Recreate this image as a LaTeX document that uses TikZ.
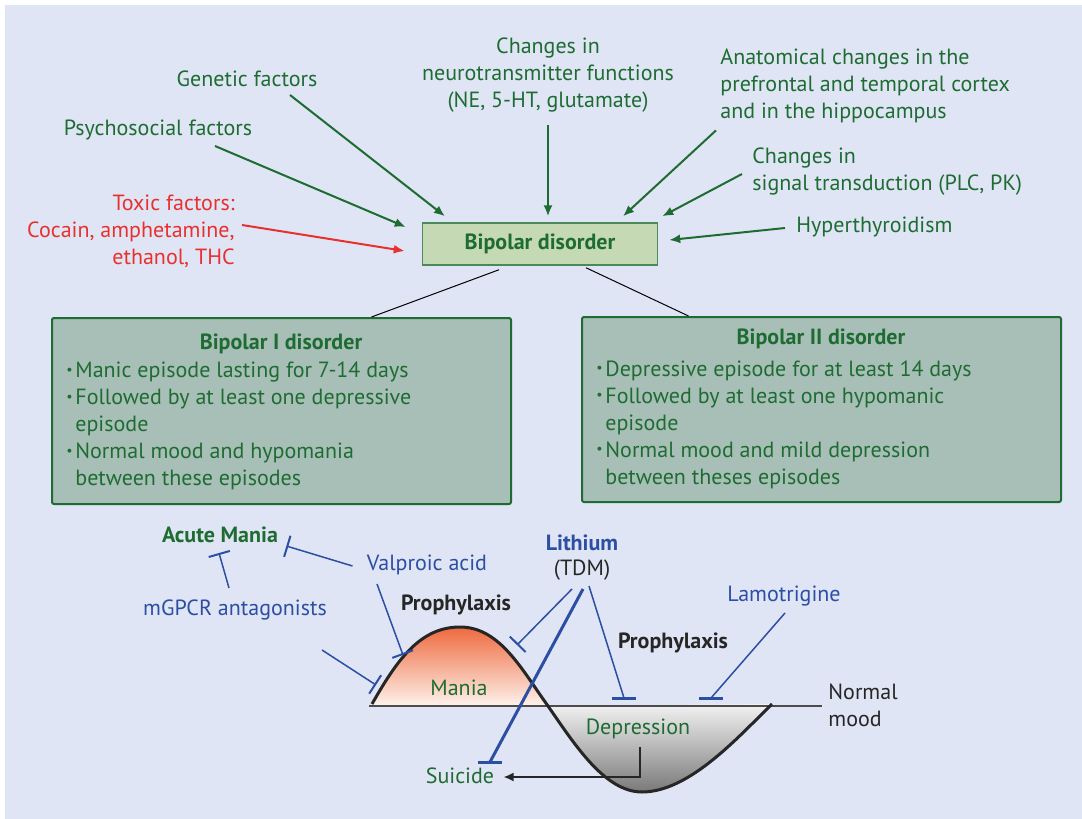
\documentclass[tikz,border=0pt]{standalone}
\usepackage{fontspec}
\setmainfont{PT Sans}
\usetikzlibrary{arrows.meta,calc}

\definecolor{bgblue}{RGB}{223,229,244}
\definecolor{dgreen}{RGB}{30,108,50}
\definecolor{boxgreen}{RGB}{168,191,184}
\definecolor{lgreen}{RGB}{197,217,180}
\definecolor{mblue}{RGB}{44,78,163}
\definecolor{tred}{RGB}{232,49,47}
\definecolor{dgray}{RGB}{38,38,38}
\definecolor{maniatop}{RGB}{238,106,62}
\definecolor{maniabot}{RGB}{253,242,236}

\newcommand{\fs}{\fontsize{11}{13.5}\selectfont}
\newcommand{\itm}{\makebox[4.5pt][l]{\raisebox{.3ex}{\scriptsize\textbullet}}}

\begin{document}
\begin{tikzpicture}[x=.5pt, y=-.5pt,
  lbl/.style={inner sep=0pt, font=\fs, align=center},
  glabel/.style={lbl, text=dgreen},
  blabel/.style={lbl, text=mblue},
  dlabel/.style={lbl, text=dgray},
  garrow/.style={draw=dgreen, line width=1pt, -{Latex[length=5.5pt,width=4.5pt]}},
  bigbox/.style={draw=dgreen, fill=boxgreen, line width=1pt, rounded corners=1pt},
  inh/.style={draw=mblue, line width=.75pt, -{Bar[width=11pt,line width=1pt]}},
  hbar/.style={draw=mblue, line width=1.5pt}]

\fill [bgblue] (5,5) rectangle (1082,819);
\useasboundingbox (0,0) rectangle (1082,819);

\node [draw=dgreen!80, fill=lgreen, line width=.75pt, minimum width=117.5pt, minimum height=21pt,
  font=\fs\bfseries, text=dgreen] (bd) at (540,244) {Bipolar disorder};

\node [glabel] (ntr) at (548,75) {Changes in\\neurotransmitter functions\\(NE, 5-HT, glutamate)};
\node [glabel] (gen) at (247,79) {Genetic factors};
\node [glabel] (psy) at (158,130) {Psychosocial factors};
\node [lbl, text=tred, anchor=east, align=right] (tox) at (235,231) {Toxic factors:\\Cocain, amphetamine,\\ethanol, THC};
\node [glabel, anchor=west, align=left] (ana) at (720,86) {Anatomical changes in the\\prefrontal and temporal cortex\\and in the hippocampus};
\node [glabel, anchor=west, align=left] (sig) at (752,172) {Changes in\\signal transduction (PLC, PK)};
\node [glabel, anchor=west] (hyp) at (796,227) {Hyperthyroidism};

\draw [garrow] ($(gen)+(43,16)$) -- ($(bd.north)+(-95,-6)$);
\draw [garrow] ($(psy)+(57,16)$) -- ($(bd.west)+(-16,-17)$);
\draw [garrow, draw=tred] ($(tox.east)+(7,-6)$) -- ($(bd.west)+(-17,7)$);
\draw [garrow] ($(ntr.south)+(0,12)$) -- ($(bd.north)+(8,-6)$);
\draw [garrow] ($(ana.south west)+(-4,7)$) -- ($(bd.north)+(83,-6)$);
\draw [garrow] ($(sig.west)+(-10,2)$) -- ($(bd.north east)+(4,-6)$);
\draw [garrow] ($(hyp.west)+(-11,1)$) -- ($(bd.east)+(11,-4)$);

\node [bigbox, minimum width=229.5pt, minimum height=93pt] (b1) at (281.5,411) {};
\node [bigbox, minimum width=239.5pt, minimum height=92.5pt] (b2) at (821.5,409.5) {};

\draw [line width=.5pt] ($(bd.south)+(-41,4)$) -- ($(b1.north)+(90,0)$);
\draw [line width=.5pt] ($(bd.south)+(46,2)$) -- ($(b2.north)+(-133,0)$);

\node [glabel, font=\fs\bfseries] (b1t) at (281,344) {Bipolar I disorder};
\node [glabel, anchor=west, align=left] (b1l) at (66,426) {\itm Manic episode lasting for 7-14 days\\
  \itm Followed by at least one depressive\\\hspace*{4.5pt}episode\\
  \itm Normal mood and hypomania\\\hspace*{4.5pt}between these episodes};
\node [glabel, font=\fs\bfseries] (b2t) at (821,339) {Bipolar II disorder};
\node [glabel, anchor=west, align=left] (b2l) at (596,424.5) {\itm Depressive episode for at least 14 days\\
  \itm Followed by at least one hypomanic\\\hspace*{4.5pt}episode\\
  \itm Normal mood and mild depression\\\hspace*{4.5pt}between theses episodes};

\shade [top color=maniatop, bottom color=maniabot] (372,706) .. controls (397,660) and (420,627) .. (460,627)
  .. controls (500,627) and (522,670) .. (548,706) -- cycle;
\shade [top color=gray!10, bottom color=gray!95!black] (548,706) .. controls (575,745) and (605,792) .. (642,792)
  .. controls (690,792) and (740,735) .. (772,704) -- cycle;
\draw [gray!60!black, line width=.75pt] (369,706) -- (822,706);
\draw [dgray, line width=1.5pt] (372,704) .. controls (397,660) and (420,627) .. (460,627)
  .. controls (500,627) and (522,670) .. (548,706) .. controls (575,745) and (605,792) .. (642,792)
  .. controls (690,792) and (740,735) .. (772,704);

\node [glabel, font=\fs\bfseries] (am) at (220,535) {Acute Mania};
\node [blabel] (val) at (427,565) {Valproic acid};
\node [blabel] (mgp) at (235,610) {mGPCR antagonists};
\node [blabel, font=\fs\bfseries] (li) at (582,543) {Lithium};
\node [dlabel] (tdm) at (582,570) {(TDM)};
\node [blabel] (lam) at (784,596) {Lamotrigine};
\node [dlabel, font=\fs\bfseries] (pr1) at (456,605) {Prophylaxis};
\node [dlabel, font=\fs\bfseries] (pr2) at (673,643) {Prophylaxis};
\node [dlabel, anchor=west, align=left] (nm) at (828,705) {Normal\\mood};
\node [glabel] (man) at (459,688) {Mania};
\node [glabel] (dep) at (638,729) {Depression};
\node [glabel] (sui) at (460,776) {Suicide};

\coordinate (ma0s) at (322,650);
\coordinate (ma0) at (376,685);
\coordinate (ma1) at (403,655);
\coordinate (ma2) at (517,645);
\coordinate (sui0) at (490,762);
\coordinate (dp1) at (624,698);
\coordinate (dp2) at (711,698);

\draw [inh] ($(mgp)+(-6,-22)$) -- ($(am)+(-1,18)$);
\draw [inh] ($(val.west)+(-14,1)$) -- ($(am.east)+(8,11)$);
\draw [inh] ($(val)+(-50,19)$) -- (ma1);
\draw [inh] (ma0s) -- (ma0);
\draw [inh] ($(tdm)+(-10,19)$) -- (ma2);
\draw [draw=mblue, line width=1.5pt] ($(tdm)+(1,19)$) -- (sui0);
\draw [hbar] ($(sui0)+(-12,0)$) -- ($(sui0)+(12,0)$);
\draw [draw=mblue, line width=.75pt] ($(tdm)+(7,16)$) -- (dp1);
\draw [hbar] ($(dp1)+(-12,0)$) -- ($(dp1)+(12,0)$);
\draw [draw=mblue, line width=.75pt] ($(lam)+(1,17)$) -- (dp2);
\draw [hbar] ($(dp2)+(-12,0)$) -- ($(dp2)+(12,0)$);

\draw [dgray, line width=.9pt, -{Latex[length=5pt,width=4.5pt]}] ($(dep)+(2,18)$) |- ($(sui.east)+(9,1)$);

\end{tikzpicture}
\end{document}
